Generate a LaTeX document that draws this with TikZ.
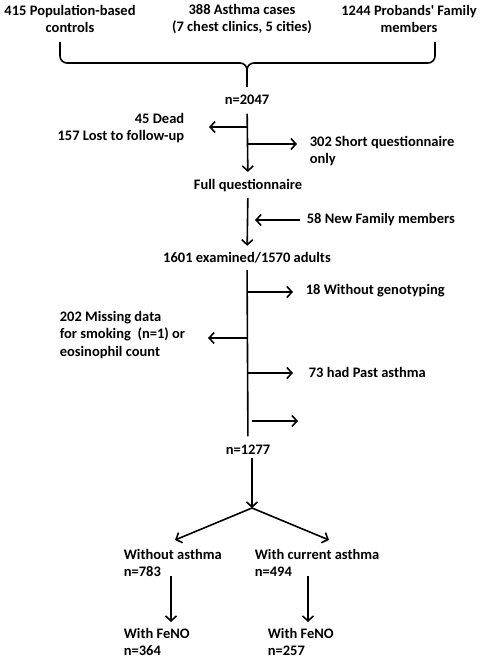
\documentclass[tikz,border=0pt]{standalone}
\usepackage{fontspec}
\setmainfont{Carlito}
\usetikzlibrary{arrows.meta}
\begin{document}
\begin{tikzpicture}[x=1pt, y=-1pt, line width=1.6pt,
  arr/.style={-{Straight Barb[length=5pt,width=11pt]}},
  lbl/.style={inner sep=0pt, font=\fontsize{14.5}{17.5}\selectfont\bfseries},
  lleft/.style={lbl, anchor=west, align=left},
  lright/.style={lbl, anchor=east, align=right}]
\useasboundingbox (0,0) rectangle (480,658);
\begin{scope}[every node/.style={lbl, align=center}]
\node (ctrl) at (70,19) {415 Population-based\\controls};
\node (cases) at (242,19) {388 Asthma cases\\(7 chest clinics, 5 cities)};
\node (fam) at (409,19) {1244 Probands\textquotesingle{} Family\\members};
\node (n2047) at (247,100) {n=2047};
\node (full) at (248,186) {Full questionnaire};
\node (exam) at (247,258) {1601 examined/1570 adults};
\node (n1277) at (248,450) {n=1277};
\end{scope}
\node [lright] (dead) at (185,128) {45 Dead\\157 Lost to follow-up};
\node [lleft] (short) at (309,151) {302 Short questionnaire\\only};
\node [lleft] (newfam) at (306,220) {58 New Family members};
\node [lleft] (geno) at (305,291) {18 Without genotyping};
\node [lleft] (miss) at (59,335) {202 Missing data\\for smoking\ \ (n=1) or\\eosinophil count};
\node [lleft] (past) at (308,372) {73 had Past asthma};
\node [lleft] (noasth) at (123,563) {Without asthma\\n=783};
\node [lleft] (curasth) at (254,563) {With current asthma\\n=494};
\node [lleft] (feno1) at (123,642) {With FeNO\\n=364};
\node [lleft] (feno2) at (267,642) {With FeNO\\n=257};
% brace
\coordinate (bl) at (60,42);
\coordinate (br) at (435,42);
\coordinate (bm) at (247,63);
\coordinate (bt) at (247,87);
\draw [rounded corners=7pt] (bl) |- (bm) -- (bt);
\draw [rounded corners=7pt] (br) |- (bm) -- (bt);
% junctions on the main line
\coordinate (j1) at (247,127);
\coordinate (j2) at (247,144);
\coordinate (j3) at (247,292);
\coordinate (j4) at (247,338);
\coordinate (e4) at (208,338);
\coordinate (j5) at (247,373);
\coordinate (j6) at (252,421);
\coordinate (e6) at (298,421);
\coordinate (split) at (252,508);
\coordinate (top1277) at (252,458);
\coordinate (a783) at (175,540);
\coordinate (a494) at (329,540);
\coordinate (s783) at (171,576);
\coordinate (t783) at (171,622);
\coordinate (s494) at (308,576);
\coordinate (t494) at (308,622);
\path [arr]
    (n2047) edge [shorten <=8pt, shorten >=7pt] (full)
    (j1) edge [shorten >=24pt] (j1 -| dead.east)
    (j2) edge [shorten >=12pt] (j2 -| short.west)
    (full) edge [shorten <=5pt, shorten >=6pt] (exam)
    (newfam.west) edge [shorten <=6pt, shorten >=7pt] (newfam.west -| full)
    (j3) edge [shorten >=12pt] (j3 -| geno.west)
    (j4) edge (e4)
    (j5) edge [shorten >=15pt] (j5 -| past.west)
    (j6) edge (e6)
    (top1277) edge (split)
    (split) edge (a783)
    (split) edge (a494)
    (s783) edge (t783)
    (s494) edge (t494);
\draw [shorten <=6pt, shorten >=8pt] (exam) -- (n1277);
\end{tikzpicture}
\end{document}
